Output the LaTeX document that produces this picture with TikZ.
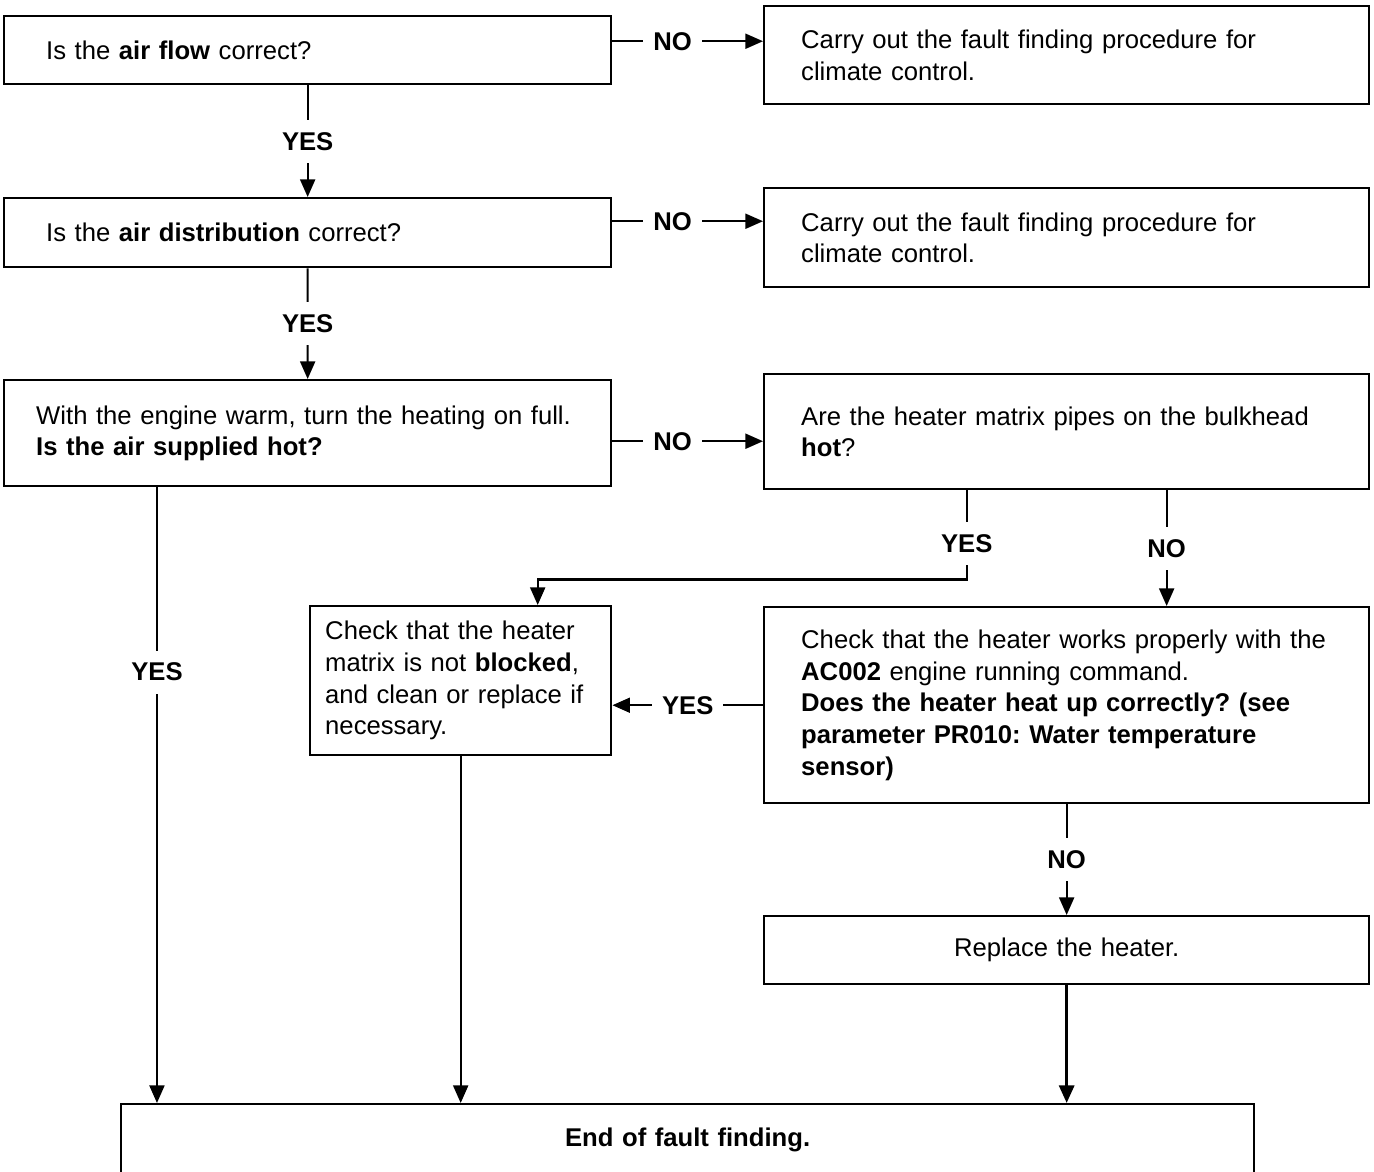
\documentclass[tikz,border=0pt]{standalone}
\usepackage{fontspec}
\setmainfont{Liberation Sans}
\usetikzlibrary{arrows.meta}

\tikzset{bx/.style={draw, line width=1.4pt, anchor=north west, align=left, inner ysep=0pt}}
\tikzset{ans/.style={fill=white, font=\bfseries, inner xsep=0.2cm, inner ysep=0.25cm}}
\tikzset{>={Triangle[length=10pt, width=8.5pt]}}

\begin{document}
\fontsize{14.6pt}{18pt}\selectfont\frenchspacing
\begin{tikzpicture}[x=0.02cm, y=-0.02cm, line width=1.2pt]
    \clip (0,0) rectangle (1374,1171);

    % left column
    \node[bx, text width=10.46cm, inner xsep=0.84cm, minimum height=1.36cm] (flow) at (3,15) {Is the \textbf{air flow} correct?};
    \node[bx, text width=10.46cm, inner xsep=0.84cm, minimum height=1.38cm] (distrib) at (3,197) {Is the \textbf{air distribution} correct?};
    \node[bx, text width=10.86cm, inner xsep=0.64cm, minimum height=2.12cm] (hotair) at (3,379) {With the engine warm, turn the heating on full.\\ \textbf{Is the air supplied hot?}};

    % right column
    \node[bx, text width=10.62cm, inner xsep=0.74cm, minimum height=1.96cm] (clim1) at (763,5) {Carry out the fault finding procedure for\\ climate control.};
    \node[bx, text width=10.62cm, inner xsep=0.74cm, minimum height=1.98cm] (clim2) at (763,187) {Carry out the fault finding procedure for\\ climate control.};
    \node[bx, text width=10.62cm, inner xsep=0.74cm, minimum height=2.3cm] (pipes) at (763,373) {Are the heater matrix pipes on the bulkhead\\ \textbf{hot}?};

    \node[bx, text width=5.42cm, inner xsep=0.3cm, minimum height=2.98cm] (blocked) at (309,605) {Check that the heater\\ matrix is not \textbf{blocked},\\ and clean or replace if\\ necessary.};
    \node[bx, text width=10.62cm, inner xsep=0.74cm, minimum height=3.92cm] (heater) at (763,606) {Check that the heater works properly with the\\ \textbf{AC002} engine running command.\\ \textbf{Does the heater heat up correctly? (see}\\ \textbf{parameter PR010: Water temperature}\\ \textbf{sensor)}};
    \node[bx, align=center, text width=10.62cm, inner xsep=0.74cm, minimum height=1.36cm] (replace) at (763,915) {Replace the heater.};

    \node[bx, align=center, text width=21.66cm, inner xsep=0.5cm, inner ysep=0.44cm, text height=0.4cm, text depth=1cm] (fin) at (120,1103) {\textbf{End of fault finding.}};

    % NO branches
    \draw[->] ([yshift=0.18cm]flow.east) -- node[ans, pos=0.4]{NO} ([yshift=0.18cm]flow.east -| clim1.west);
    \draw[->] ([yshift=0.23cm]distrib.east) -- node[ans, pos=0.4]{NO} ([yshift=0.23cm]distrib.east -| clim2.west);
    \draw[->] ([yshift=-0.16cm]hotair.east) -- node[ans, pos=0.4]{NO} ([yshift=-0.16cm]hotair.east -| pipes.west);

    % YES branches
    \draw[->] (flow.south) -- node[ans]{YES} (distrib.north);
    \draw[->] (distrib.south) -- node[ans]{YES} (hotair.north);
    \draw[->] ([xshift=3.08cm]hotair.south west) -- node[ans, pos=0.3]{YES} ([xshift=3.08cm]hotair.south west |- fin.north);

    \draw[->] ([xshift=-2cm]pipes.south) -- node[ans, pos=0.6]{YES} ++(0,89) -| ([xshift=1.54cm]blocked.north);
    \draw[->] ([xshift=2cm]pipes.south) -- node[ans]{NO} ([xshift=2cm]heater.north);

    \draw[->] (heater.west) -- node[ans]{YES} (heater.west -| blocked.east);
    \draw[->] (heater.south) -- node[ans]{NO} (replace.north);

    \draw[->] (blocked.south) -- (blocked.south |- fin.north);
    \draw[->, line width=1.8pt] (replace.south) -- (replace.south |- fin.north);

\end{tikzpicture}
\end{document}
